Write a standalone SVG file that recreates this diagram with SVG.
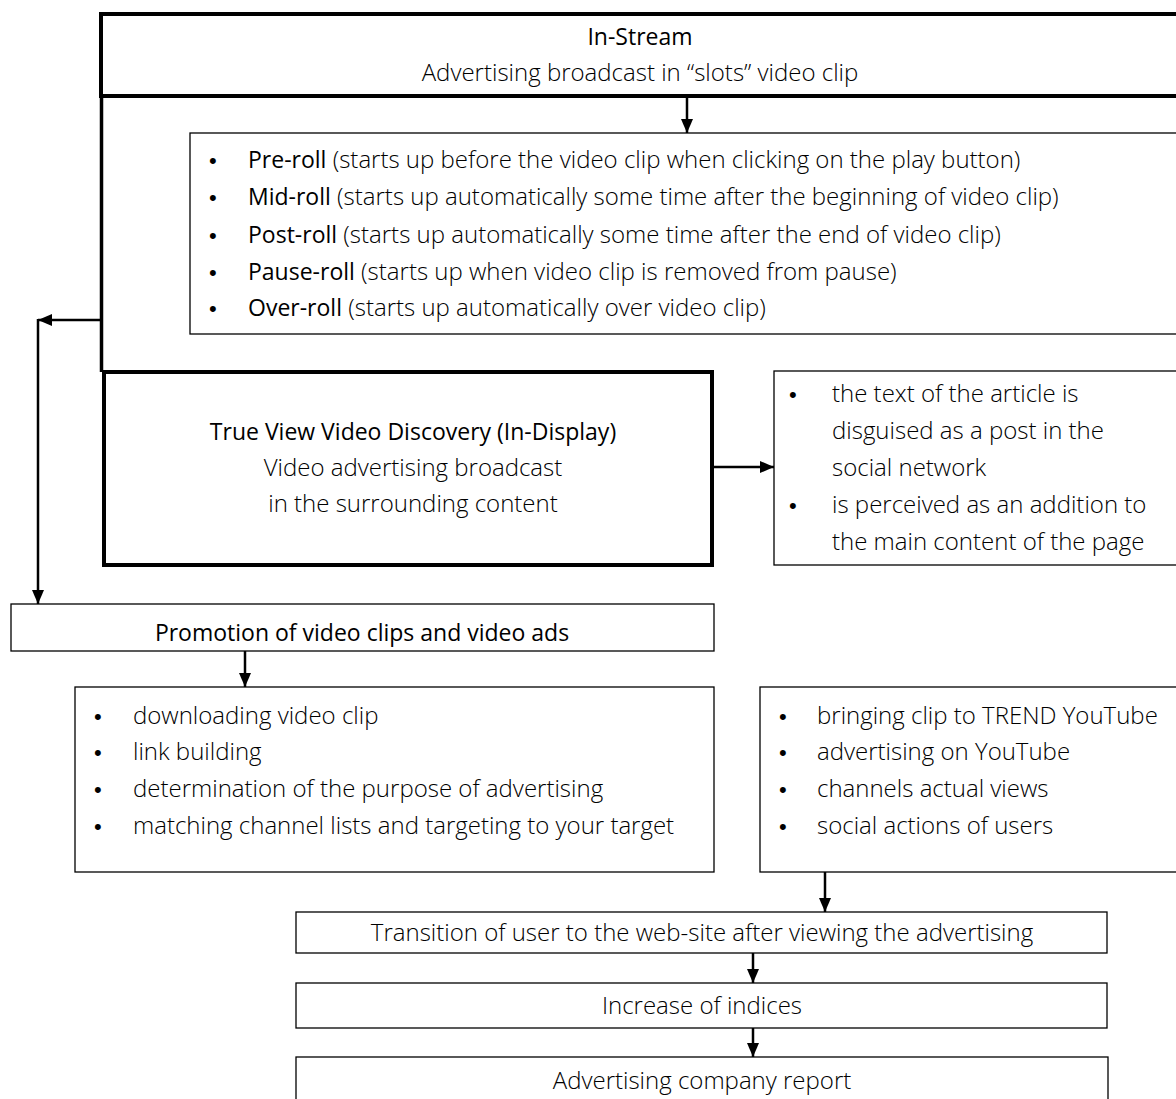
<svg xmlns="http://www.w3.org/2000/svg" width="1176" height="1099" viewBox="0 0 1176 1099">
<defs>
<marker id="ah" markerWidth="14" markerHeight="12" refX="14" refY="6" orient="auto" markerUnits="userSpaceOnUse" viewBox="0 0 14 12"><path d="M0,0 L14,6 L0,12 z" fill="#000"/></marker>
<style>
.t{font-family:"Open Sans","Liberation Sans",sans-serif;font-size:24px;font-weight:300;fill:#000}
.b{font-weight:500;font-size:23px}
.c{text-anchor:middle}
.bu{font-family:"Liberation Sans",sans-serif;font-size:22px;font-weight:400;fill:#000}
.thin{fill:#fff;stroke:#000;stroke-width:1.3}
.thick{fill:#fff;stroke:#000;stroke-width:4}
.ln{fill:none;stroke:#000;stroke-width:2.5}
</style>
</defs>
<rect width="1176" height="1099" fill="#fff"/>
<g id="in-stream">
<path d="M1180,14 H101 V96 H1180" fill="#fff" stroke="#000" stroke-width="4"/>
<text class="t b c" x="640" y="45">In-Stream</text>
<text class="t c" x="640" y="81">Advertising broadcast in “slots” video clip</text>
</g>
<g id="rolls">
<rect class="thin" x="190" y="133" width="1000" height="201"/>
<g class="t">
<text class="bu" x="209" y="168">•</text><text x="248" y="168"><tspan class="b">Pre-roll</tspan> (starts up before the video clip when clicking on the play button)</text>
<text class="bu" x="209" y="205">•</text><text x="248" y="205"><tspan class="b">Mid-roll</tspan> (starts up automatically some time after the beginning of video clip)</text>
<text class="bu" x="209" y="243">•</text><text x="248" y="243"><tspan class="b">Post-roll</tspan> (starts up automatically some time after the end of video clip)</text>
<text class="bu" x="209" y="280">•</text><text x="248" y="280"><tspan class="b">Pause-roll</tspan> (starts up when video clip is removed from pause)</text>
<text class="bu" x="209" y="316">•</text><text x="248" y="316"><tspan class="b">Over-roll</tspan> (starts up automatically over video clip)</text>
</g>
</g>
<g id="trueview">
<rect class="thick" x="104" y="372" width="608" height="193"/>
<text class="t b c" x="413" y="440">True View Video Discovery (In-Display)</text>
<text class="t c" x="413" y="476">Video advertising broadcast</text>
<text class="t c" x="413" y="512">in the surrounding content</text>
</g>
<g id="native">
<rect class="thin" x="774" y="371" width="420" height="194"/>
<g class="t">
<text class="bu" x="789" y="402">•</text><text x="832" y="402">the text of the article is</text>
<text x="832" y="439">disguised as a post in the</text>
<text x="832" y="476">social network</text>
<text class="bu" x="789" y="513">•</text><text x="832" y="513">is perceived as an addition to</text>
<text x="832" y="550">the main content of the page</text>
</g>
</g>
<g id="promotion">
<rect class="thin" x="11" y="604" width="703" height="47"/>
<text class="t b c" x="362" y="641">Promotion of video clips and video ads</text>
</g>
<g id="promo-left">
<rect class="thin" x="75" y="687" width="639" height="185"/>
<g class="t">
<text class="bu" x="94" y="724">•</text><text x="133" y="724">downloading video clip</text>
<text class="bu" x="94" y="760">•</text><text x="133" y="760">link building</text>
<text class="bu" x="94" y="797">•</text><text x="133" y="797">determination of the purpose of advertising</text>
<text class="bu" x="94" y="834">•</text><text x="133" y="834">matching channel lists and targeting to your target</text>
</g>
</g>
<g id="promo-right">
<rect class="thin" x="760" y="687" width="430" height="185"/>
<g class="t">
<text class="bu" x="779" y="724">•</text><text x="817" y="724">bringing clip to TREND YouTube</text>
<text class="bu" x="779" y="760">•</text><text x="817" y="760">advertising on YouTube</text>
<text class="bu" x="779" y="797">•</text><text x="817" y="797">channels actual views</text>
<text class="bu" x="779" y="834">•</text><text x="817" y="834">social actions of users</text>
</g>
</g>
<g id="transition">
<rect class="thin" x="296" y="912" width="811" height="41"/>
<text class="t c" x="702" y="941">Transition of user to the web-site after viewing the advertising</text>
</g>
<g id="indices">
<rect class="thin" x="296" y="983" width="811" height="45"/>
<text class="t c" x="702" y="1014">Increase of indices</text>
</g>
<g id="report">
<rect class="thin" x="296" y="1057" width="812" height="60"/>
<text class="t c" x="702" y="1089">Advertising company report</text>
</g>
<g id="connectors">
<path d="M101.5,96 V372" fill="none" stroke="#000" stroke-width="3.5"/>
<path class="ln" d="M687,98 V133" marker-end="url(#ah)"/>
<path class="ln" d="M101,320 H38" marker-end="url(#ah)"/>
<path class="ln" d="M38,319 V604" marker-end="url(#ah)"/>
<path class="ln" d="M713,467 H774" marker-end="url(#ah)"/>
<path class="ln" d="M245,651 V687" marker-end="url(#ah)"/>
<path class="ln" d="M825,872 V912" marker-end="url(#ah)"/>
<path class="ln" d="M753,953 V983" marker-end="url(#ah)"/>
<path class="ln" d="M753,1028 V1057" marker-end="url(#ah)"/>
</g>
</svg>
